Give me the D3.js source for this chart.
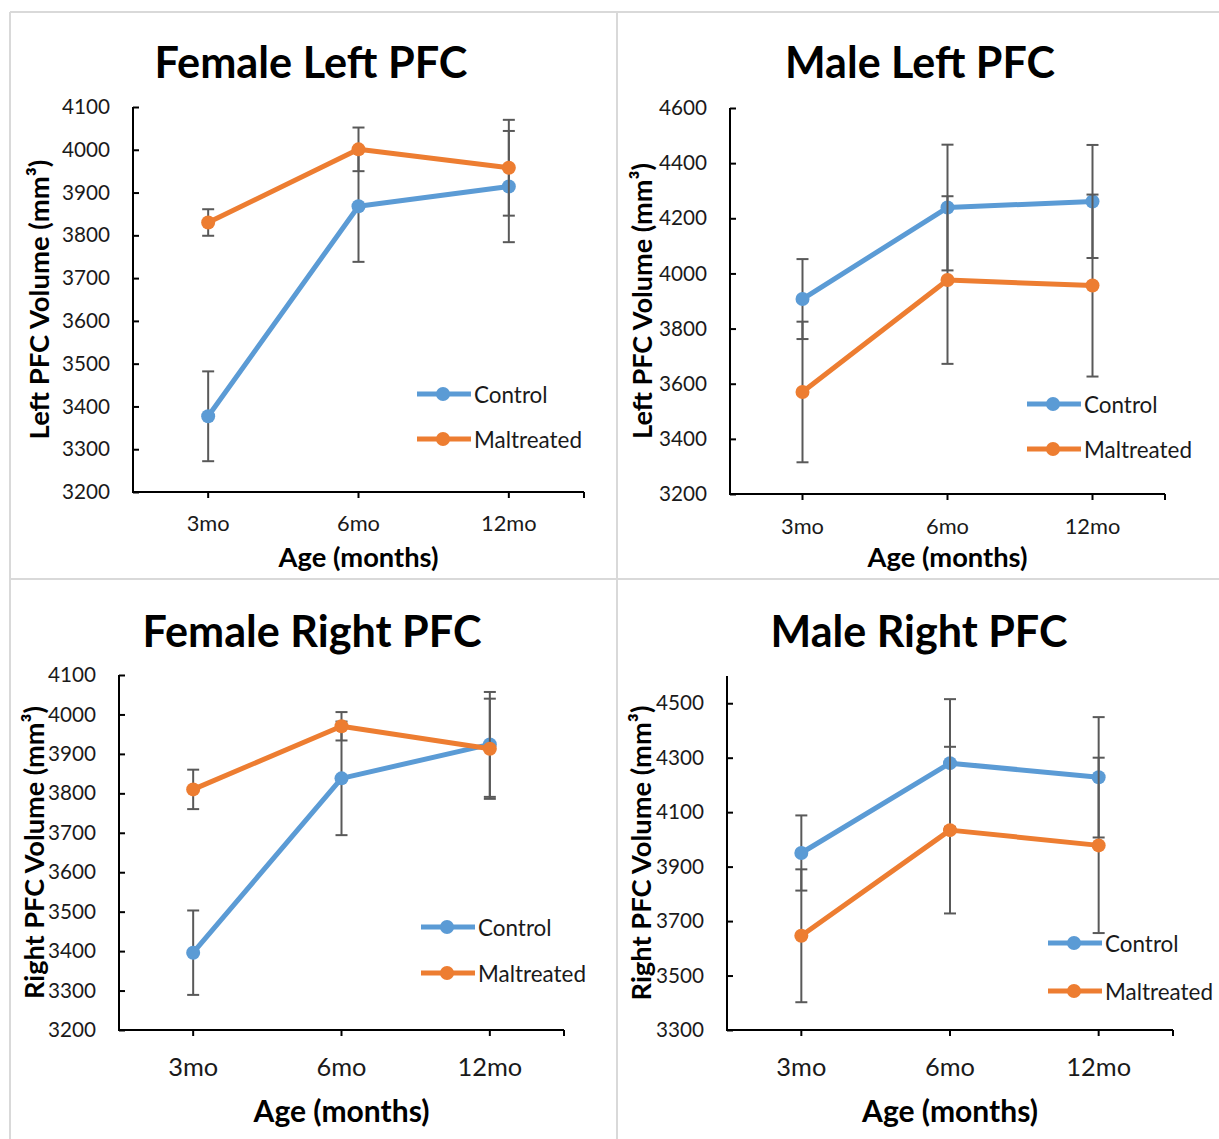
<!DOCTYPE html>
<html>
<head>
<meta charset="utf-8">
<script src="https://cdn.jsdelivr.net/npm/d3@7"></script>
<style>
  html, body { margin: 0; padding: 0; background: #ffffff; }
  svg { display: block; }
</style>
</head>
<body>
<svg id="chart" width="1219" height="1139"></svg>
<script>
// ---------------- DATA ----------------
const categories = ["3mo", "6mo", "12mo"];
const seriesNames = ["Control", "Maltreated"];

const femaleLeftControl    = [3377, 3868, 3914];
const femaleLeftControlErr = [105, 130, 130];
const femaleLeftMalt       = [3830, 4001, 3958];
const femaleLeftMaltErr    = [31, 51, 112];

const maleLeftControl      = [3907, 4239, 4261];
const maleLeftControlErr   = [145, 228, 205];
const maleLeftMalt         = [3570, 3976, 3956];
const maleLeftMaltErr      = [255, 304, 330];

const femaleRightControl    = [3396, 3838, 3924];
const femaleRightControlErr = [107, 144, 133];
const femaleRightMalt       = [3810, 3970, 3913];
const femaleRightMaltErr    = [50, 36, 127];

const maleRightControl      = [3950, 4280, 4228];
const maleRightControlErr   = [138, 235, 221];
const maleRightMalt         = [3646, 4034, 3978];
const maleRightMaltErr      = [244, 306, 322];

const ticksFemale    = [3200, 3300, 3400, 3500, 3600, 3700, 3800, 3900, 4000, 4100];
const ticksMaleLeft  = [3200, 3400, 3600, 3800, 4000, 4200, 4400, 4600];
const ticksMaleRight = [3300, 3500, 3700, 3900, 4100, 4300, 4500];

const titles = ["Female Left PFC", "Male Left PFC", "Female Right PFC", "Male Right PFC"];
const yTitles = ["Left PFC Volume (mm³)", "Left PFC Volume (mm³)", "Right PFC Volume (mm³)", "Right PFC Volume (mm³)"];
const xTitle = "Age (months)";

// ---------------- LAYOUT ----------------
const colors = { Control: "#5B9BD5", Maltreated: "#ED7D31" };
const FONT = "Lato, 'Open Sans', sans-serif";

const panels = [
  { title: titles[0], yTitle: yTitles[0], control: femaleLeftControl, controlErr: femaleLeftControlErr,
    malt: femaleLeftMalt, maltErr: femaleLeftMaltErr, domain: [3200, 4100], ticks: ticksFemale,
    box: { l: 133, t: 107, r: 584, b: 492 }, titleX: 311, titleW: 313, titleY: 78,
    yTitleX: 38, yTitleW: 280, xTitleY: 567, xTitleW: 160, xTickW: 43, xTickPad: 17,
    legX: 417, legY: [394, 439] },
  { title: titles[1], yTitle: yTitles[1], control: maleLeftControl, controlErr: maleLeftControlErr,
    malt: maleLeftMalt, maltErr: maleLeftMaltErr, domain: [3200, 4600], ticks: ticksMaleLeft,
    box: { l: 730, t: 108, r: 1165, b: 494 }, titleX: 920, titleW: 270, titleY: 78,
    yTitleX: 641, yTitleW: 276, xTitleY: 567, xTitleW: 160, xTickW: 43, xTickPad: 18,
    legX: 1027, legY: [404, 449] },
  { title: titles[2], yTitle: yTitles[2], control: femaleRightControl, controlErr: femaleRightControlErr,
    malt: femaleRightMalt, maltErr: femaleRightMaltErr, domain: [3200, 4100], ticks: ticksFemale,
    box: { l: 119, t: 675, r: 564, b: 1030 }, titleX: 312, titleW: 339, titleY: 647,
    yTitleX: 33, yTitleW: 293, xTitleY: 1122, xTitleW: 176, xTickW: 50, xTickPad: 22,
    legX: 421, legY: [927, 973] },
  { title: titles[3], yTitle: yTitles[3], control: maleRightControl, controlErr: maleRightControlErr,
    malt: maleRightMalt, maltErr: maleRightMaltErr, domain: [3300, 4600], ticks: ticksMaleRight,
    box: { l: 727, t: 676, r: 1173, b: 1030 }, titleX: 919, titleW: 297, titleY: 647,
    yTitleX: 640, yTitleW: 295, xTitleY: 1122, xTitleW: 176, xTickW: 50, xTickPad: 22,
    legX: 1048, legY: [943, 991] }
];

const svg = d3.select("#chart");
svg.append("rect").attr("width", 1219).attr("height", 1139).attr("fill", "#fff");

// panel borders
const borderColor = "#d9d9d9";
[[10, 12, 1219, 12], [10, 12, 10, 1139], [617, 12, 617, 1139], [10, 579, 1219, 579]].forEach(d => {
  svg.append("line").attr("x1", d[0]).attr("y1", d[1]).attr("x2", d[2]).attr("y2", d[3])
    .attr("stroke", borderColor).attr("stroke-width", 2);
});

// measuring helper: font size such that text has target width
function sizeFor(text, weight, target) {
  const t = svg.append("text").attr("font-family", FONT).attr("font-weight", weight)
    .attr("font-size", 100).text(text);
  const w = t.node().getComputedTextLength();
  t.remove();
  return 100 * target / w;
}

const yTickSize = sizeFor("4100", 400, 48);
const legendSize = sizeFor("Maltreated", 400, 108);

panels.forEach(p => {
  const g = svg.append("g");
  const { l, t, r, b } = p.box;
  const x = d3.scaleBand().domain(categories).range([l, r]).padding(0);
  const y = d3.scaleLinear().domain(p.domain).range([b, t]);
  const cx = c => x(c) + x.bandwidth() / 2;

  // title
  g.append("text").attr("x", p.titleX).attr("y", p.titleY).attr("text-anchor", "middle")
    .attr("font-family", FONT).attr("font-weight", 700)
    .attr("font-size", sizeFor(p.title, 700, p.titleW)).attr("fill", "#000").text(p.title);

  // y axis
  const yAxis = g.append("g").attr("transform", `translate(${l},0)`)
    .call(d3.axisLeft(y).tickValues(p.ticks).tickSize(-6).tickSizeOuter(0).tickPadding(23).tickFormat(d3.format("d")));
  yAxis.select(".domain").remove();
  yAxis.append("line").attr("x1", 0).attr("x2", 0).attr("y1", t).attr("y2", b)
    .attr("stroke", "#000").attr("stroke-width", 2);
  yAxis.selectAll(".tick line").attr("stroke", "#000").attr("stroke-width", 2);
  yAxis.selectAll("text").attr("font-family", FONT).attr("font-size", yTickSize).attr("fill", "#1a1a1a");

  // x axis
  const xAxis = g.append("g").attr("transform", `translate(0,${b})`)
    .call(d3.axisBottom(x).tickSize(6).tickSizeOuter(0).tickPadding(p.xTickPad));
  xAxis.select(".domain").remove();
  xAxis.append("line").attr("x1", l - 1).attr("x2", r).attr("y1", 0).attr("y2", 0)
    .attr("stroke", "#000").attr("stroke-width", 2);
  xAxis.append("line").attr("x1", r).attr("x2", r).attr("y1", 0).attr("y2", 6)
    .attr("stroke", "#000").attr("stroke-width", 2);
  xAxis.selectAll(".tick line").attr("stroke", "#000").attr("stroke-width", 2);
  xAxis.selectAll("text").attr("font-family", FONT).attr("font-size", sizeFor("3mo", 400, p.xTickW)).attr("fill", "#1a1a1a");

  // axis titles
  g.append("text").attr("x", (l + r) / 2 + 0).attr("y", p.xTitleY).attr("text-anchor", "middle")
    .attr("font-family", FONT).attr("font-weight", 700)
    .attr("font-size", sizeFor(xTitle, 700, p.xTitleW)).attr("fill", "#000").text(xTitle);
  const yMid = (t + b) / 2;
  g.append("text").attr("transform", `translate(${p.yTitleX},${yMid}) rotate(-90)`)
    .attr("text-anchor", "middle").attr("dominant-baseline", "central")
    .attr("font-family", FONT).attr("font-weight", 700)
    .attr("font-size", sizeFor(p.yTitle, 700, p.yTitleW)).attr("fill", "#000").text(p.yTitle);

  // series
  const series = [
    { name: seriesNames[0], vals: p.control, err: p.controlErr },
    { name: seriesNames[1], vals: p.malt, err: p.maltErr }
  ];
  const line = d3.line().x((d, i) => cx(categories[i])).y(d => y(d));
  series.forEach(s => {
    const pts = s.vals.map((v, i) => ({ c: categories[i], v, e: s.err[i] }));
    const eg = g.append("g").attr("stroke", "#595959").attr("stroke-width", 2);
    pts.forEach(d => {
      const xx = cx(d.c);
      eg.append("line").attr("x1", xx).attr("x2", xx).attr("y1", y(d.v + d.e)).attr("y2", y(d.v - d.e));
      eg.append("line").attr("x1", xx - 6).attr("x2", xx + 6).attr("y1", y(d.v + d.e)).attr("y2", y(d.v + d.e));
      eg.append("line").attr("x1", xx - 6).attr("x2", xx + 6).attr("y1", y(d.v - d.e)).attr("y2", y(d.v - d.e));
    });
    g.append("path").datum(s.vals).attr("d", line).attr("fill", "none")
      .attr("stroke", colors[s.name]).attr("stroke-width", 5).attr("stroke-linejoin", "round");
    g.selectAll(null).data(pts).enter().append("circle")
      .attr("cx", d => cx(d.c)).attr("cy", d => y(d.v)).attr("r", 7).attr("fill", colors[s.name]);
  });

  // legend
  series.forEach((s, i) => {
    const ly = p.legY[i];
    g.append("line").attr("x1", p.legX).attr("x2", p.legX + 54).attr("y1", ly).attr("y2", ly)
      .attr("stroke", colors[s.name]).attr("stroke-width", 5);
    g.append("circle").attr("cx", p.legX + 26).attr("cy", ly).attr("r", 7).attr("fill", colors[s.name]);
    g.append("text").attr("x", p.legX + 57).attr("y", ly).attr("dominant-baseline", "central")
      .attr("font-family", FONT).attr("font-size", legendSize).attr("fill", "#1a1a1a").text(s.name);
  });
});
</script>
</body>
</html>
